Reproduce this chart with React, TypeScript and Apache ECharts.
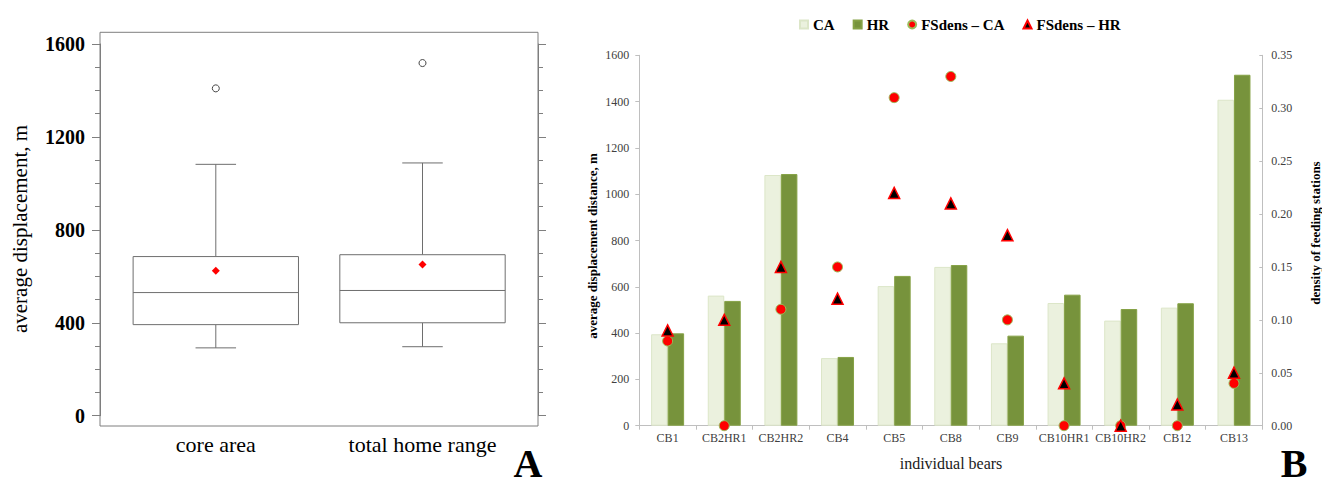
import React, { useEffect, useRef } from "react";
import * as echarts from "echarts";

// ---- Panel A: box plot stats (min, Q1, median, Q3, max) ----
const boxCategories = ["core area", "total home range"];
const coreStats = [292, 392, 530, 685, 1082];
const homeStats = [297, 400, 539, 693, 1088];
const boxMeans = [624, 651];
const boxOutliers = [1409, 1518];

// ---- Panel B: individual bears ----
const bears = ["CB1", "CB2HR1", "CB2HR2", "CB4", "CB5", "CB8", "CB9", "CB10HR1", "CB10HR2", "CB12", "CB13"];
const caDisp = [395, 562, 1083, 292, 603, 686, 356, 530, 454, 510, 1408];
const hrDisp = [399, 539, 1087, 297, 647, 694, 389, 566, 504, 529, 1516];
const fsDensCA = [0.08, 0, 0.11, 0.15, 0.31, 0.33, 0.1, 0, 0, 0, 0.04];
const fsDensHR = [0.09, 0.1, 0.15, 0.12, 0.22, 0.21, 0.18, 0.04, 0, 0.02, 0.05];

const SERIF = "'Liberation Serif', 'Times New Roman', serif";

export default function App() {
  const ref = useRef<HTMLDivElement>(null);
  useEffect(() => {
    if (!ref.current) return;
    const chart = echarts.init(ref.current, undefined, { renderer: "svg" });
    const boxData = [coreStats, homeStats].map((s, i) => [i, ...s]);
    const frameColor = "#7f7f7f";
    const plain = (v: number) => String(v);
    const option: any = {
      animation: false,
      backgroundColor: "#ffffff",
      textStyle: { fontFamily: SERIF },
      legend: {
        left: 794,
        top: 12,
        itemWidth: 8,
        itemHeight: 8,
        itemGap: 18,
        textStyle: { fontFamily: SERIF, fontWeight: "bold", fontSize: 15, color: "#000" },
        data: [
          { name: "CA", icon: "rect" },
          { name: "HR", icon: "rect" },
          { name: "FSdens – CA", icon: "circle" },
          { name: "FSdens – HR", icon: "triangle" },
        ],
      },
      grid: [
        { left: 100, top: 44, width: 438, height: 371.7 },
        { left: 112.45, top: 44, width: 413.4, height: 371.7 },
        { left: 639.3, top: 55.3, width: 623, height: 370.4 },
      ],
      xAxis: [
        { gridIndex: 0, type: "value", min: 0, max: 1, show: false },
        {
          gridIndex: 1,
          type: "category",
          data: boxCategories,
          axisLine: { show: false },
          axisTick: { show: false },
          axisLabel: { fontFamily: SERIF, fontSize: 22, color: "#000", margin: 18, interval: 0 },
        },
        {
          gridIndex: 2,
          type: "category",
          data: bears,
          axisLine: { lineStyle: { color: "#bfbfbf", width: 1 } },
          axisTick: { show: true, length: 4, lineStyle: { color: "#bfbfbf" } },
          axisLabel: { fontFamily: SERIF, fontSize: 12, color: "#404040", margin: 6, interval: 0 },
        },
      ],
      yAxis: [
        {
          gridIndex: 0,
          type: "value",
          position: "left",
          min: 0,
          max: 1600,
          interval: 400,
          axisLine: { show: true, lineStyle: { color: frameColor } },
          axisTick: { show: true, length: 8, lineStyle: { color: frameColor } },
          minorTick: { show: true, splitNumber: 4, length: 5, lineStyle: { color: frameColor } },
          splitLine: { show: false },
          axisLabel: {
            fontFamily: SERIF,
            fontSize: 20,
            fontWeight: "bold",
            color: "#000",
            margin: 15,
            formatter: plain,
          },
        },
        {
          gridIndex: 0,
          type: "value",
          position: "right",
          min: 0,
          max: 1600,
          interval: 400,
          axisLine: { show: true, lineStyle: { color: frameColor } },
          axisTick: { show: true, length: 8, lineStyle: { color: frameColor } },
          minorTick: { show: true, splitNumber: 4, length: 5, lineStyle: { color: frameColor } },
          splitLine: { show: false },
          axisLabel: { show: false },
        },
        { gridIndex: 1, type: "value", min: 0, max: 1600, show: false },
        {
          gridIndex: 2,
          type: "value",
          position: "left",
          min: 0,
          max: 1600,
          interval: 200,
          axisLine: { show: true, lineStyle: { color: "#bfbfbf" } },
          axisTick: { show: true, length: 4, lineStyle: { color: "#bfbfbf" } },
          splitLine: { show: false },
          axisLabel: { fontFamily: SERIF, fontSize: 12, color: "#404040", margin: 10, formatter: plain },
        },
        {
          gridIndex: 2,
          type: "value",
          position: "right",
          min: 0,
          max: 0.35,
          interval: 0.05,
          axisLine: { show: true, lineStyle: { color: "#bfbfbf" } },
          axisTick: { show: true, inside: true, length: 3, lineStyle: { color: "#bfbfbf" } },
          splitLine: { show: false },
          axisLabel: {
            fontFamily: SERIF,
            fontSize: 12,
            color: "#404040",
            margin: 9,
            formatter: (v: number) => v.toFixed(2),
          },
        },
      ],
      series: [
        {
          name: "box",
          type: "custom",
          xAxisIndex: 1,
          yAxisIndex: 2,
          data: boxData,
          encode: { x: 0, y: [1, 2, 3, 4, 5] },
          renderItem: (params: any, api: any) => {
            const i = api.value(0);
            const lo = api.coord([i, api.value(1)]);
            const q1 = api.coord([i, api.value(2)]);
            const med = api.coord([i, api.value(3)]);
            const q3 = api.coord([i, api.value(4)]);
            const hi = api.coord([i, api.value(5)]);
            const band = api.size([1, 0])[0];
            const hw = band * 0.4;
            const cw = band * 0.098;
            const x = lo[0];
            const style = { stroke: "#6e6e6e", lineWidth: 1, fill: "none" };
            return {
              type: "group",
              children: [
                { type: "line", shape: { x1: x, y1: hi[1], x2: x, y2: q3[1] }, style },
                { type: "line", shape: { x1: x, y1: q1[1], x2: x, y2: lo[1] }, style },
                { type: "line", shape: { x1: x - cw, y1: hi[1], x2: x + cw, y2: hi[1] }, style },
                { type: "line", shape: { x1: x - cw, y1: lo[1], x2: x + cw, y2: lo[1] }, style },
                {
                  type: "rect",
                  shape: { x: x - hw, y: q3[1], width: 2 * hw, height: q1[1] - q3[1] },
                  style: { stroke: "#6e6e6e", lineWidth: 1, fill: "#ffffff" },
                },
                { type: "line", shape: { x1: x - hw, y1: med[1], x2: x + hw, y2: med[1] }, style },
              ],
            };
          },
          z: 2,
        },
        {
          name: "mean",
          type: "scatter",
          xAxisIndex: 1,
          yAxisIndex: 2,
          symbol: "diamond",
          symbolSize: 8,
          itemStyle: { color: "#ff0000", opacity: 1 },
          data: boxMeans.map((m, i) => [i, m]),
          z: 3,
        },
        {
          name: "outlier",
          type: "scatter",
          xAxisIndex: 1,
          yAxisIndex: 2,
          symbol: "circle",
          symbolSize: 7,
          itemStyle: { color: "#ffffff", borderColor: "#444444", borderWidth: 1, opacity: 1 },
          data: boxOutliers.map((m, i) => [i, m]),
          z: 3,
        },
        {
          name: "CA",
          type: "bar",
          xAxisIndex: 2,
          yAxisIndex: 3,
          barWidth: 16.5,
          barGap: "0%",
          itemStyle: { color: "#ebf1de", borderColor: "#dce6c8", borderWidth: 1 },
          data: caDisp,
        },
        {
          name: "HR",
          type: "bar",
          xAxisIndex: 2,
          yAxisIndex: 3,
          barWidth: 16.5,
          barGap: "0%",
          itemStyle: { color: "#77933c", borderColor: "#86a246", borderWidth: 1 },
          data: hrDisp,
        },
        {
          name: "FSdens – CA",
          type: "scatter",
          xAxisIndex: 2,
          yAxisIndex: 4,
          symbol: "circle",
          symbolSize: 10,
          clip: false,
          itemStyle: { color: "#ff0000", borderColor: "#9bbb59", borderWidth: 1, opacity: 1 },
          data: fsDensCA,
          z: 4,
        },
        {
          name: "FSdens – HR",
          type: "scatter",
          xAxisIndex: 2,
          yAxisIndex: 4,
          symbol: "triangle",
          symbolSize: 11,
          clip: false,
          itemStyle: { color: "#000000", borderColor: "#ff0000", borderWidth: 1.5, opacity: 1 },
          data: fsDensHR,
          z: 5,
        },
      ],
      graphic: [
        {
          type: "rect",
          shape: { x: 100, y: 32.3, width: 438, height: 393.7 },
          style: { fill: "none", stroke: frameColor, lineWidth: 1 },
          z: 1,
        },
        {
          type: "text",
          x: 19.5,
          y: 229,
          rotation: Math.PI / 2,
          style: {
            text: "average displacement, m",
            fontFamily: SERIF,
            fontSize: 21,
            fill: "#000",
            align: "center",
            verticalAlign: "middle",
          },
        },
        {
          type: "text",
          x: 592,
          y: 246,
          rotation: Math.PI / 2,
          style: {
            text: "average displacement distance, m",
            fontFamily: SERIF,
            fontSize: 13,
            fontWeight: "bold",
            fill: "#000",
            align: "center",
            verticalAlign: "middle",
          },
        },
        {
          type: "text",
          x: 1315,
          y: 233,
          rotation: Math.PI / 2,
          style: {
            text: "density of feeding stations",
            fontFamily: SERIF,
            fontSize: 13,
            fontWeight: "bold",
            fill: "#000",
            align: "center",
            verticalAlign: "middle",
          },
        },
        {
          type: "text",
          x: 951,
          y: 463,
          style: {
            text: "individual bears",
            fontFamily: SERIF,
            fontSize: 16,
            fill: "#1a1a1a",
            align: "center",
            verticalAlign: "middle",
          },
        },
        {
          type: "text",
          x: 528,
          y: 463,
          style: {
            text: "A",
            fontFamily: SERIF,
            fontSize: 40,
            fontWeight: "bold",
            fill: "#000",
            align: "center",
            verticalAlign: "middle",
          },
        },
        {
          type: "text",
          x: 1294,
          y: 463,
          style: {
            text: "B",
            fontFamily: SERIF,
            fontSize: 40,
            fontWeight: "bold",
            fill: "#000",
            align: "center",
            verticalAlign: "middle",
          },
        },
      ],
    };
    chart.setOption(option);
    return () => chart.dispose();
  }, []);
  return (
    <div
      ref={ref}
      style={{ position: "fixed", left: 0, top: 0, width: 1322, height: 484, background: "#fff" }}
    />
  );
}
